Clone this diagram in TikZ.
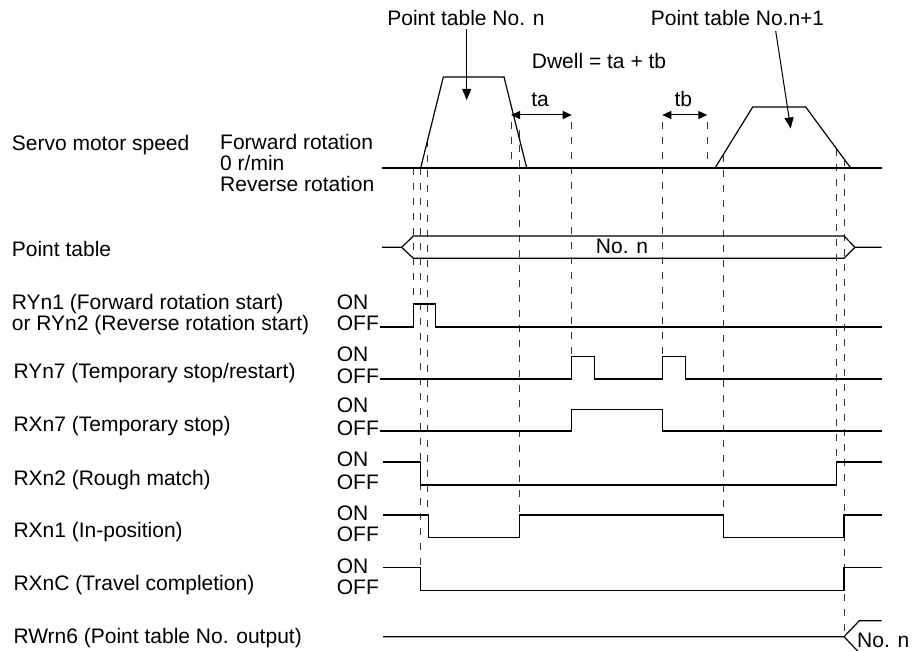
\documentclass[tikz,border=0pt]{standalone}
\usepackage{fontspec}
\setmainfont{Liberation Sans}
\usetikzlibrary{arrows.meta}
\begin{document}
\begin{tikzpicture}[x=1pt,y=-1pt,
  wave/.style={line width=1.2pt, line join=miter},
  guide/.style={line width=1pt, black!80, dash pattern=on 7pt off 8pt},
  txt/.style={font=\fontsize{21}{21}\selectfont, inner sep=0pt},
  lbl/.style={txt, anchor=base west},
  ctr/.style={txt, anchor=base},
  pointer/.style={line width=1pt, -{Triangle[length=11pt,width=9pt]}},
  dim/.style={line width=1pt, {Triangle[length=9pt,width=8pt]}-{Triangle[length=9pt,width=8pt]}}
]
\useasboundingbox (0,0) rectangle (920,650);

% ---------- top annotations ----------
\node[ctr] (ptn) at (466,26) {Point table No. n};
\node[ctr] (ptn1) at (737.5,26) {Point table No.n+1};
\node[lbl] (dwell) at (531.7,68.3) {Dwell = ta + tb};
\node[ctr] (ta) at (540,106.7) {ta};
\node[ctr] (tb) at (683.3,106.7) {tb};

\coordinate (tipA) at (466.7,100);
\coordinate (srcB) at (775.7,31);
\coordinate (tipB) at (790.7,128.5);
\draw[pointer] (ptn.south) ++(0.7,3) coordinate (srcA) -- (tipA);
\draw[pointer] (srcB) -- (tipB);

\coordinate (taL) at (511,115);
\coordinate (taR) at (571.7,115);
\coordinate (tbL) at (662.3,115);
\coordinate (tbR) at (707.3,115);
\draw[dim] (taL) -- (taR);
\draw[dim] (tbL) -- (tbR);

% ---------- left labels ----------
\node[lbl] (servo) at (11.7,150) {Servo motor speed};
\node[lbl] (fwd) at (220,149.7) {Forward rotation};
\node[lbl] (zero) at (220,170.7) {0 r/min};
\node[lbl] (rev) at (220,191.7) {Reverse rotation};
\node[lbl] (ptab) at (11.7,256) {Point table};
\node[lbl] (ry1a) at (11.7,309) {RYn1 (Forward rotation start)};
\node[lbl] (ry1b) at (11.7,330) {or RYn2 (Reverse rotation start)};
\node[lbl] (ry7) at (13.3,378.5) {RYn7 (Temporary stop/restart)};
\node[lbl] (rx7) at (13.3,431) {RXn7 (Temporary stop)};
\node[lbl] (rx2) at (13.3,485) {RXn2 (Rough match)};
\node[lbl] (rx1) at (13.3,537.5) {RXn1 (In-position)};
\node[lbl] (rxc) at (13.3,590.3) {RXnC (Travel completion)};
\node[lbl] (rw6) at (13.3,643) {RWrn6 (Point table No. output)};

\foreach \n/\on/\off in {a/309/330, b/361.7/383.3, c/412.7/435, d/466.7/489, e/520/541, f/573.3/594}{
  \node[lbl] (on\n) at (336.7,\on) {ON};
  \node[lbl] (off\n) at (336.7,\off) {OFF};
}

% ---------- guide (dashed) lines ----------
\draw[guide] (413.3,168) -- (413.3,304);
\draw[guide] (420.7,168) -- (420.7,567.7);
\draw[guide] (427.7,140) -- (427.7,515);
\draw[guide] (511,122) -- (511,168);
\draw[guide] (519.3,130) -- (519.3,515);
\draw[guide] (571.7,122) -- (571.7,356.7);
\draw[guide] (662.3,122) -- (662.3,356.7);
\draw[guide] (707.3,122) -- (707.3,168);
\draw[guide] (723.3,155) -- (723.3,515);
\draw[guide] (836.7,149) -- (836.7,462);
\draw[guide] (844,159) -- (844,636.7);

% ---------- servo motor speed ----------
\draw[wave] (382,168) -- (881.7,168);
\draw[wave] (420.7,168) -- (443.3,77) -- (504,77) -- (526.7,168);
\draw[wave] (715,168) -- (752.7,107) -- (805.7,107) -- (850.7,168);

% ---------- point table ----------
\draw[wave] (382,247.3) -- (401.7,247.3) -- (413.3,236) -- (844,236) -- (855,247.3) -- (881.7,247.3);
\draw[wave] (401.7,247.3) -- (413.3,258.3) -- (844,258.3) -- (855,247.3);
\node[ctr] (ptno) at (622,253.3) {No. n};

% ---------- signals ----------
\draw[wave] (380,327) -- (413.3,327) -- (413.3,304) -- (435.7,304) -- (435.7,327) -- (881.7,327);
\draw[wave] (380,379) -- (571.7,379) -- (571.7,356.7) -- (594.3,356.7) -- (594.3,379)
  -- (662.3,379) -- (662.3,356.7) -- (685.3,356.7) -- (685.3,379) -- (881.7,379);
\draw[wave] (380,431) -- (571.7,431) -- (571.7,409.3) -- (662.3,409.3) -- (662.3,431) -- (881.7,431);
\draw[wave] (383,462) -- (420.7,462) -- (420.7,485) -- (836.7,485) -- (836.7,462) -- (881.7,462);
\draw[wave] (383,515) -- (428.3,515) -- (428.3,537.3) -- (519.3,537.3) -- (519.3,515)
  -- (723.3,515) -- (723.3,537.3) -- (844,537.3) -- (844,515) -- (881.7,515);
\draw[wave] (383,567.7) -- (420.7,567.7) -- (420.7,590.3) -- (844,590.3) -- (844,567.7) -- (881.7,567.7);

% ---------- RWrn6 ----------
\draw[wave] (383,636.7) -- (844,636.7) -- (859.3,620.7) -- (881.7,620.7);
\draw[wave] (844,636.7) -- (859.3,652.7);
\node[lbl] (rwno) at (857,647) {No. n};
\end{tikzpicture}
\end{document}
